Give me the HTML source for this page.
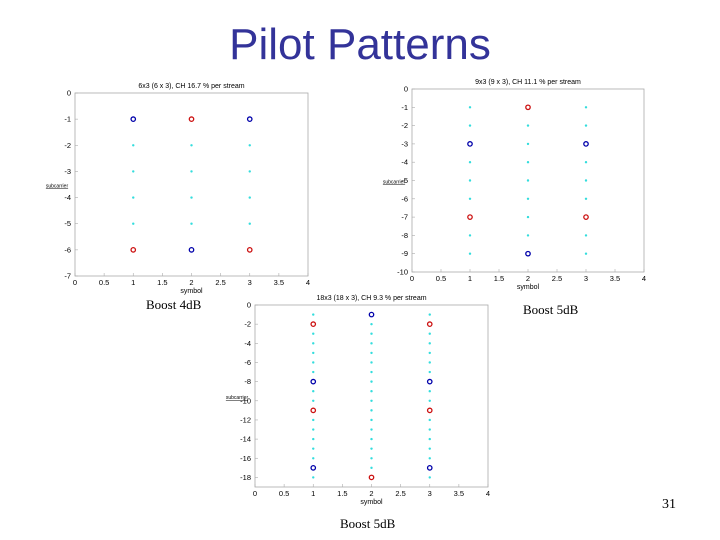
<!DOCTYPE html>
<html><head><meta charset="utf-8"><style>
body{margin:0;width:720px;height:540px;background:#fff;overflow:hidden;position:relative;font-family:"Liberation Sans",sans-serif}
#title{position:absolute;left:0;width:720px;top:20px;text-align:center;font-size:44px;color:#333399}
.lbl{position:absolute;font-family:"Liberation Serif",serif;font-size:13px;color:#000}
</style></head><body>
<div id="title">Pilot Patterns</div>
<svg id="svg" width="720" height="540" style="position:absolute;left:0;top:0"></svg>
<div class="lbl" style="left:146px;top:297px">Boost 4dB</div>
<div class="lbl" style="left:523px;top:302px">Boost 5dB</div>
<div class="lbl" style="left:340px;top:516px">Boost 5dB</div>
<div class="lbl" style="left:662px;top:497px;font-size:14px">31</div>
<script>
const p1Titles="6x3 (6 x 3), CH 16.7 % per stream";
const p1Rows=[-1,-2,-3,-4,-5,-6];
const p1Blue=[[1,-1],[3,-1],[2,-6]];
const p1Red=[[2,-1],[1,-6],[3,-6]];
const p1YTicks=[0,-1,-2,-3,-4,-5,-6,-7];
const p2Title="9x3 (9 x 3), CH 11.1 % per stream";
const p2Rows=[-1,-2,-3,-4,-5,-6,-7,-8,-9];
const p2Blue=[[1,-3],[3,-3],[2,-9]];
const p2Red=[[2,-1],[1,-7],[3,-7]];
const p2YTicks=[0,-1,-2,-3,-4,-5,-6,-7,-8,-9,-10];
const p3Title="18x3 (18 x 3), CH 9.3 % per stream";
const p3Rows=[-1,-2,-3,-4,-5,-6,-7,-8,-9,-10,-11,-12,-13,-14,-15,-16,-17,-18];
const p3Blue=[[1,-8],[1,-17],[2,-1],[3,-8],[3,-17]];
const p3Red=[[1,-2],[1,-11],[2,-18],[3,-2],[3,-11]];
const p3YTicks=[0,-2,-4,-6,-8,-10,-12,-14,-16,-18];
const xTicks=[0,0.5,1,1.5,2,2.5,3,3.5,4];
const cols=[1,2,3];
const svg=document.getElementById('svg');
const NS='http://www.w3.org/2000/svg';
function mk(t,a,par){const e=document.createElementNS(NS,t);for(const k in a)e.setAttribute(k,a[k]);(par||svg).appendChild(e);return e;}
function plot(name,L,R,T,B,ymin,title,cyan,blue,red,yt){
  const g=mk('g',{});
  
  
  mk('rect',{x:L-22,y:T-14,width:R-L+30,height:B-T+45,fill:'#fff'},g);
  const xs=v=>L+(R-L)*v/4, ys=v=>T+(B-T)*(-v)/(-ymin);
  mk('rect',{x:L,y:T,width:R-L,height:B-T,fill:'none',stroke:'#aaa','stroke-width':0.8},g);
  const tt=mk('text',{x:(L+R)/2,y:T-5,'font-size':7,'text-anchor':'middle'},g);tt.textContent=title;
  xTicks.forEach(v=>{mk('line',{x1:xs(v),x2:xs(v),y1:B,y2:B-3,stroke:'#aaa','stroke-width':0.6},g);
    const t=mk('text',{x:xs(v),y:B+9,'font-size':7.5,'text-anchor':'middle'},g);t.textContent=v;});
  yt.forEach(v=>{mk('line',{x1:L,x2:L+3,y1:ys(v),y2:ys(v),stroke:'#aaa','stroke-width':0.6},g);
    const t=mk('text',{x:L-4,y:ys(v)+2.5,'font-size':7.5,'text-anchor':'end'},g);t.textContent=v;});
  const xl=mk('text',{x:(L+R)/2,y:B+17,'font-size':7,'text-anchor':'middle'},g);xl.textContent='symbol';
  const yl=mk('text',{x:L-18,y:(T+B)/2+3,'font-size':5,'text-anchor':'middle','text-decoration':'underline'},g);yl.textContent='subcarrier';
  const isP=p=>blue.concat(red).some(q=>q[0]===p[0]&&q[1]===p[1]);
  cyan.filter(p=>!isP(p)).forEach(p=>{const c=mk('circle',{cx:xs(p[0]),cy:ys(p[1]),r:1.2,fill:'#33dddd'},g);
    });
  blue.forEach(p=>{const c=mk('circle',{cx:xs(p[0]),cy:ys(p[1]),r:2.2,fill:'none',stroke:'#0000aa','stroke-width':1.3},g);
    });
  red.forEach(p=>{const c=mk('circle',{cx:xs(p[0]),cy:ys(p[1]),r:2.2,fill:'none',stroke:'#cc1111','stroke-width':1.3},g);
    });
}
const grid=rows=>{const a=[];cols.forEach(c=>rows.forEach(r=>a.push([c,r])));return a;};
plot('chart-6x3',75,308,93,276,-7,p1Titles,grid(p1Rows),p1Blue,p1Red,p1YTicks);
plot('chart-9x3',412,644,89,272,-10,p2Title,grid(p2Rows),p2Blue,p2Red,p2YTicks);
plot('chart-18x3',255,488,305,487,-19,p3Title,grid(p3Rows),p3Blue,p3Red,p3YTicks);
</script>
</body></html>
